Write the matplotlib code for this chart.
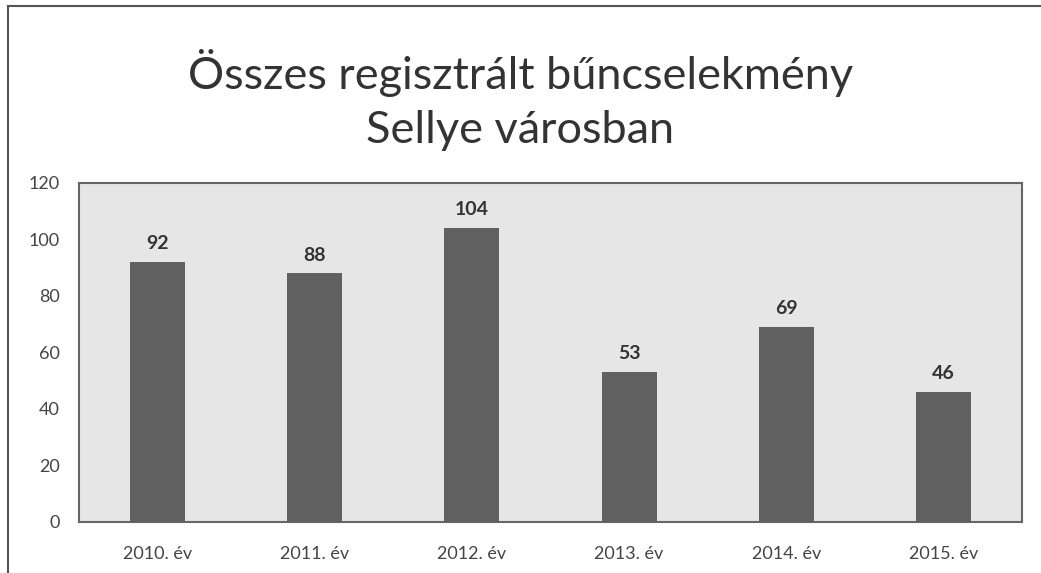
import matplotlib.pyplot as plt

categories = ["2010. év", "2011. év", "2012. év", "2013. év", "2014. év", "2015. év"]
values = [92, 88, 104, 53, 69, 46]
yticks = [0, 20, 40, 60, 80, 100, 120]
title = "Összes regisztrált bűncselekmény\nSellye városban"

plt.rcParams['font.family'] = ['Lato', 'DejaVu Sans']

fig = plt.figure(figsize=(10.41, 5.73), dpi=100)
fig.patch.set_facecolor('white')
ax = fig.add_axes([79/1041, 1 - 522/573, (1022-79)/1041, (522-183)/573])
ax.set_facecolor('#e6e6e6')

x = list(range(len(categories)))
ax.bar(x, values, width=0.35, color='#606060', zorder=3)
for xi, v in zip(x, values):
    ax.text(xi, v + 3.5, str(v), ha='center', va='bottom', fontsize=14,
            fontweight='bold', color='#333333', zorder=4)

ax.set_xlim(-0.5, len(categories) - 0.5)
ax.set_ylim(0, 120)
ax.set_yticks(yticks)
ax.set_yticklabels([str(t) for t in yticks], fontsize=13, color='#444444')
ax.set_xticks(x)
ax.set_xticklabels(categories, fontsize=13, color='#444444')
ax.tick_params(axis='y', length=0, pad=14)
ax.tick_params(axis='x', length=0, pad=17)
for s in ax.spines.values():
    s.set_color('#666666')
    s.set_linewidth(1.5)

fig.text(0.5, 1 - 100/573, title, ha='center', va='center', fontsize=32.5,
         color='#333333', linespacing=1.4)

# outer frame (left and top edges)
fig.add_artist(plt.Line2D([8/1041, 8/1041], [0, 1 - 6/573], transform=fig.transFigure,
                          color='#555555', linewidth=1.5))
fig.add_artist(plt.Line2D([8/1041, 1], [1 - 6/573, 1 - 6/573], transform=fig.transFigure,
                          color='#555555', linewidth=1.5))

fig.savefig('out.png', dpi=100)
